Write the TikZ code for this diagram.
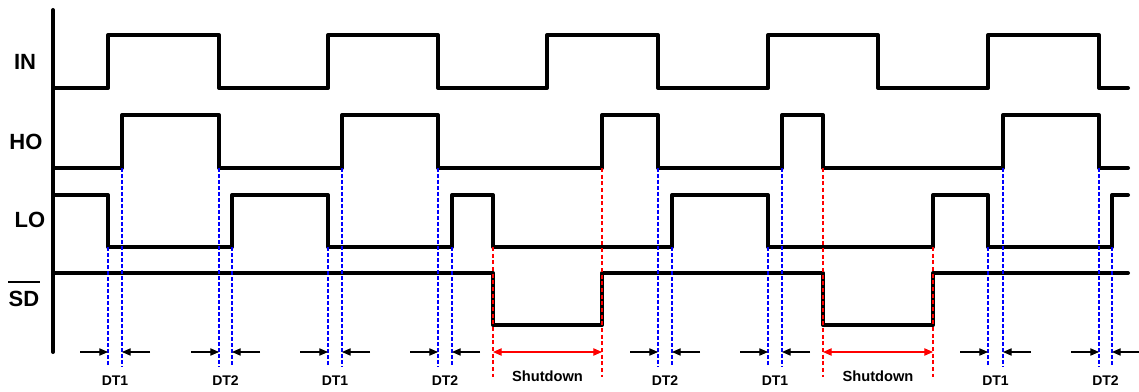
\documentclass[tikz,border=0pt]{standalone}
\usepackage{fontspec}
\setmainfont{Liberation Sans}
\usetikzlibrary{arrows.meta}

\begin{document}
\begin{tikzpicture}[
        x=0.75pt, y=-0.75pt,
        signal/.style={line width=3pt, line join=round, line cap=round},
        bluedash/.style={blue, line width=1.1pt, dash pattern=on 3pt off 1.5pt},
        reddash/.style={red, line width=0.9pt, dash pattern=on 3pt off 2pt},
        dimarrow/.style={-{Triangle[length=6.5pt,width=5.5pt]}, line width=0.8pt},
        shutarrow/.style={red, {Triangle[length=6.5pt,width=5.5pt]}-{Triangle[length=6.5pt,width=5.5pt]}, line width=0.9pt},
        siglabel/.style={font=\fontsize{16.5}{18}\selectfont\bfseries, inner sep=0pt, align=center},
        dtlabel/.style={font=\fontsize{10.5}{12}\selectfont\bfseries, inner sep=0pt},
        shutlabel/.style={font=\fontsize{11}{13}\selectfont\bfseries, inner sep=0pt}
    ]

        \useasboundingbox (0,0) rectangle (1139,392);

        % Axis
        \draw[signal] (53,10) -- (53,352);

        % Signal names
        \node[siglabel] (in) at (25,62) {IN};
        \node[siglabel] (ho) at (26,142) {HO};
        \node[siglabel] (lo) at (30,220) {LO};
        \node[siglabel, anchor=south] (sd) at (24,307) {\rule{24pt}{1.5pt}\\[0pt]SD};

        % Input
        \draw[signal] (53,88) -- (108,88) -- (108,35) -- (219,35) -- (219,88) -- (328,88) -- (328,35)
            -- (438,35) -- (438,88) -- (547,88) -- (547,35) -- (658,35) -- (658,88) -- (768,88)
            -- (768,35) -- (878,35) -- (878,88) -- (988,88) -- (988,35) -- (1099,35) -- (1099,88) -- (1128,88);

        % High side output
        \draw[signal] (53,168) -- (122,168) -- (122,115) -- (219,115) -- (219,168) -- (342,168) -- (342,115)
            -- (438,115) -- (438,168) -- (602,168) -- (602,115) -- (658,115) -- (658,168) -- (782,168)
            -- (782,115) -- (823,115) -- (823,168) -- (1003,168) -- (1003,115) -- (1099,115) -- (1099,168) -- (1128,168);

        % Low side output
        \draw[signal] (53,195) -- (108,195) -- (108,247) -- (232,247) -- (232,195) -- (328,195) -- (328,247)
            -- (452,247) -- (452,195) -- (493,195) -- (493,247) -- (672,247) -- (672,195) -- (768,195)
            -- (768,247) -- (933,247) -- (933,195) -- (988,195) -- (988,247) -- (1112,247) -- (1112,195) -- (1128,195);

        % Shutdown input
        \draw[signal] (53,273) -- (493,273) -- (493,325) -- (602,325) -- (602,273) -- (823,273)
            -- (823,325) -- (933,325) -- (933,273) -- (1128,273);

        % Dead times
        \foreach \xa/\ya/\xb/\yb/\txt/\nm in {108/247/122/168/DT1/a, 219/168/232/247/DT2/b,
                328/247/342/168/DT1/c, 438/168/452/247/DT2/d, 658/168/672/247/DT2/e,
                768/247/782/168/DT1/f, 988/247/1003/168/DT1/g, 1099/168/1112/247/DT2/h}{
            \coordinate (\nm1) at (\xa,352);
            \coordinate (\nm2) at (\xb,352);
            \draw[bluedash] (\xa,\ya) -- (\xa,367);
            \draw[bluedash] (\xb,\yb) -- (\xb,367);
            \draw[dimarrow] ([xshift=-21pt]\nm1) -- (\nm1);
            \draw[dimarrow] ([xshift=21pt]\nm2) -- (\nm2);
            \node[dtlabel] (\nm) at ({(\xa+\xb)/2},381) {\txt};
        }

        % Shutdown windows
        \coordinate (s1) at (493,352);
        \coordinate (s2) at (602,352);
        \draw[reddash] (493,247) -- (493,377);
        \draw[reddash] (602,168) -- (602,377);
        \draw[shutarrow] (s1) -- (s2);
        \node[shutlabel] (shut1) at (547.5,376) {Shutdown};

        \coordinate (s3) at (823,352);
        \coordinate (s4) at (933,352);
        \draw[reddash] (823,168) -- (823,377);
        \draw[reddash] (933,247) -- (933,377);
        \draw[shutarrow] (s3) -- (s4);
        \node[shutlabel] (shut2) at (878,376) {Shutdown};

    \end{tikzpicture}
\end{document}
